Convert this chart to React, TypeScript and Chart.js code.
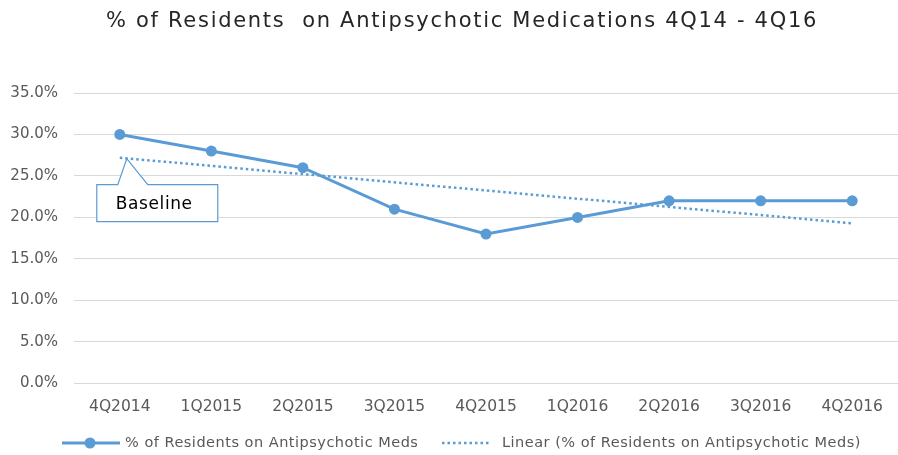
import React, { useEffect, useRef } from "react";
import { Chart, registerables } from "chart.js";

Chart.register(...registerables);

const TITLE = "% of Residents  on Antipsychotic Medications 4Q14 - 4Q16";
const categories = ["4Q2014", "1Q2015", "2Q2015", "3Q2015", "4Q2015", "1Q2016", "2Q2016", "3Q2016", "4Q2016"];
const residentsPct = [30, 28, 26, 21, 18, 20, 22, 22, 22];
const trendPct = [27.2, null, null, null, null, null, null, null, 19.3];
const seriesLabel = "% of Residents on Antipsychotic Meds";
const trendLabel = "Linear (% of Residents on Antipsychotic Meds)";
const calloutText = "Baseline";

const BLUE = "#5B9BD5";
const TEXT = "#595959";
const FONT = "'DejaVu Sans', sans-serif";

const overlayPlugin = {
  id: "overlay",
  afterDraw(chart: any) {
    const ctx = chart.ctx;
    const xs = chart.scales.x;
    const ys = chart.scales.y;
    ctx.save();
    // Title
    ctx.fillStyle = "#262626";
    ctx.font = `21px ${FONT}`;
    (ctx as any).letterSpacing = "1.7px";
    ctx.textAlign = "center";
    ctx.textBaseline = "middle";
    ctx.fillText(TITLE, 462, 22);

    // Callout "Baseline"
    const tx = xs.getPixelForValue(0) + 7;
    const ty = ys.getPixelForValue(trendPct[0] as number) + 1;
    const left = tx - 30, right = tx + 91, top = ty + 26, bottom = ty + 63;
    ctx.beginPath();
    ctx.moveTo(left, top);
    ctx.lineTo(tx - 9, top);
    ctx.lineTo(tx, ty);
    ctx.lineTo(tx + 21, top);
    ctx.lineTo(right, top);
    ctx.lineTo(right, bottom);
    ctx.lineTo(left, bottom);
    ctx.closePath();
    ctx.fillStyle = "#ffffff";
    ctx.fill();
    ctx.strokeStyle = BLUE;
    ctx.lineWidth = 1.2;
    ctx.stroke();
    ctx.fillStyle = "#000000";
    ctx.font = `17px ${FONT}`;
    (ctx as any).letterSpacing = "0.6px";
    ctx.textAlign = "left";
    ctx.fillText(calloutText, left + 19, (top + bottom) / 2 + 1);

    // Legend
    const ly = 443;
    ctx.strokeStyle = BLUE;
    ctx.lineWidth = 3;
    ctx.setLineDash([]);
    ctx.beginPath();
    ctx.moveTo(62, ly);
    ctx.lineTo(120, ly);
    ctx.stroke();
    ctx.beginPath();
    ctx.arc(90, ly, 5.5, 0, Math.PI * 2);
    ctx.fillStyle = BLUE;
    ctx.fill();
    ctx.fillStyle = TEXT;
    ctx.font = `14.5px ${FONT}`;
    (ctx as any).letterSpacing = "0.5px";
    ctx.textAlign = "left";
    ctx.fillText(seriesLabel, 125, ly);

    ctx.lineWidth = 2.5;
    ctx.setLineDash([2.5, 3]);
    ctx.beginPath();
    ctx.moveTo(442, ly);
    ctx.lineTo(491, ly);
    ctx.stroke();
    ctx.setLineDash([]);
    ctx.fillText(trendLabel, 502, ly);
    ctx.restore();
  },
};

export default function App() {
  const ref = useRef<HTMLCanvasElement | null>(null);
  useEffect(() => {
    document.body.style.margin = "0";
    const chart = new Chart(ref.current as HTMLCanvasElement, {
      type: "line",
      data: {
        labels: categories,
        datasets: [
          {
            label: seriesLabel,
            data: residentsPct,
            borderColor: BLUE,
            backgroundColor: BLUE,
            borderWidth: 3,
            pointRadius: 5.5,
            pointHoverRadius: 5.5,
            pointBorderWidth: 0,
            tension: 0,
          },
          {
            label: trendLabel,
            data: trendPct as any,
            borderColor: BLUE,
            borderWidth: 2.5,
            borderDash: [2.5, 3],
            pointRadius: 0,
            spanGaps: true,
            tension: 0,
          },
        ],
      },
      options: {
        animation: false,
        responsive: false,
        layout: { autoPadding: false, padding: { top: 93, bottom: 25, left: 0, right: 0 } },
        plugins: {
          legend: { display: false },
          title: { display: false },
          tooltip: { enabled: false },
        },
        scales: {
          x: {
            offset: true,
            grid: { display: false, drawTicks: false },
            border: { display: false },
            ticks: { color: TEXT, font: { family: FONT, size: 15.5 }, padding: 14, maxRotation: 0 },
          },
          y: {
            min: 0,
            max: 35,
            afterFit: (scale: any) => {
              scale.width = 74;
            },
            grid: { color: "#D9D9D9", drawTicks: false, lineWidth: 1 },
            border: { display: false },
            ticks: {
              stepSize: 5,
              color: TEXT,
              font: { family: FONT, size: 15 },
              padding: 16,
              callback: (v: any) => Number(v).toFixed(1) + "%",
            },
          },
        },
      },
      plugins: [overlayPlugin],
    });
    return () => chart.destroy();
  }, []);
  return (
    <div style={{ position: "absolute", left: 0, top: 0, width: 898, height: 455 }}>
      <canvas ref={ref} width={898} height={455} />
    </div>
  );
}
